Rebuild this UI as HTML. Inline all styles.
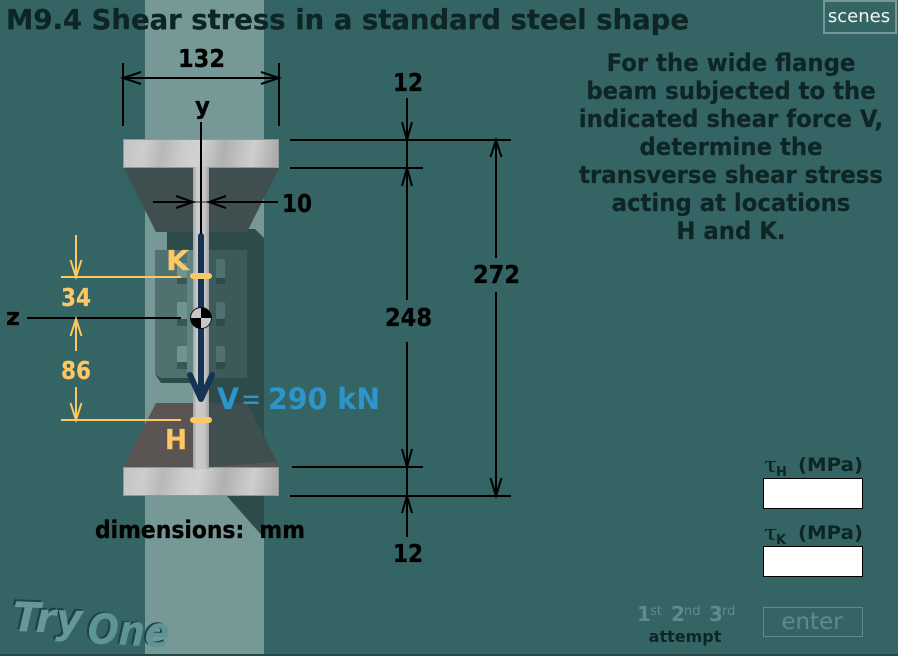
<!DOCTYPE html>
<html><head><meta charset="utf-8"><style>
html,body{margin:0;padding:0;background:#346464;width:898px;height:656px;overflow:hidden}
svg{display:block}
text{font-family:"DejaVu Sans","Liberation Sans",sans-serif;font-weight:bold}
</style></head><body>
<svg width="898" height="656" viewBox="0 0 898 656" xmlns="http://www.w3.org/2000/svg">
<defs>
<linearGradient id="fl" x1="0" y1="0" x2="1" y2="0.03">
<stop offset="0" stop-color="#c4c4c4"/><stop offset=".14" stop-color="#cdcdcd"/><stop offset=".26" stop-color="#b8b8b8"/><stop offset=".4" stop-color="#cccccc"/><stop offset=".5" stop-color="#d2d2d2"/><stop offset=".66" stop-color="#b0b0b0"/><stop offset=".85" stop-color="#cecece"/><stop offset="1" stop-color="#acacac"/>
</linearGradient>
<linearGradient id="web" x1="0" y1="0" x2="1" y2="0">
<stop offset="0" stop-color="#a4a4a4"/><stop offset=".25" stop-color="#cccccc"/><stop offset=".75" stop-color="#c4c4c4"/><stop offset="1" stop-color="#a0a0a0"/>
</linearGradient>
</defs>
<rect width="898" height="656" fill="#346464"/>
<rect x="145" y="0" width="119" height="656" fill="#769896"/>
<rect x="0" y="654" width="898" height="2" fill="#244848"/>

<!-- background column shapes -->
<polygon points="167,229 255,229 264,238 264,437 209,437 209,250 167,250" fill="#2d4b4b"/>
<polygon points="226,495 264,495 264,538" fill="#2d4b4b"/>
<polygon points="155,250 247,250 247,378 161,378 155,374" fill="#4f716f"/>
<rect x="187" y="250" width="6" height="128" fill="#5f8481"/>
<polygon points="209,250 247,250 247,378 209,378" fill="#3b5a59"/>
<polygon points="155,374 161,383 193,383 193,378 161,378" fill="#2d4b4b"/>
<polygon points="209,378 247,378 247,382 209,382" fill="#2d4b4b"/>
<g>
<rect x="177" y="263" width="10" height="16" rx="2" fill="#6f9491"/><rect x="177" y="278" width="10" height="6" fill="#375755"/>
<rect x="177" y="302" width="10" height="17" rx="2" fill="#6f9491"/><rect x="177" y="319" width="10" height="7" fill="#375755"/>
<rect x="177" y="346" width="10" height="17" rx="2" fill="#6f9491"/><rect x="177" y="362" width="10" height="7" fill="#375755"/>
<rect x="216" y="259" width="9" height="20" rx="2" fill="#4f716f"/><rect x="216" y="278" width="9" height="6" fill="#2d4b4b"/>
<rect x="216" y="302" width="9" height="17" rx="2" fill="#4f716f"/><rect x="216" y="319" width="9" height="7" fill="#2d4b4b"/>
<rect x="216" y="346" width="9" height="17" rx="2" fill="#4f716f"/><rect x="216" y="362" width="9" height="7" fill="#2d4b4b"/>
</g>

<!-- beam -->
<polygon points="124,168 279,168 247,232 156,232" fill="#3f4f4f"/>
<polygon points="156,403 193,403 193,467 123,467" fill="#5a5452"/>
<polygon points="209,403 247,403 277,462 279,467 209,467" fill="#3f4f4f"/>
<polygon points="209,467 276,462 279,467" fill="#5a5452"/>
<rect x="123.500" y="139.500" width="155" height="28" fill="url(#fl)" stroke="#8a9a9a"/>
<rect x="123.500" y="467.500" width="155" height="28" fill="url(#fl)" stroke="#8a9a9a"/>
<rect x="193" y="167" width="16" height="302" fill="url(#web)"/>
<rect x="193" y="201" width="16" height="2" fill="#777"/>

<!-- dark shear arrow -->
<line x1="201" y1="236" x2="201" y2="394" stroke="#153352" stroke-width="6" stroke-linecap="round"/>
<polyline points="190,375 201,399 212,375" fill="none" stroke="#153352" stroke-width="6" stroke-linecap="round" stroke-linejoin="round"/>

<g stroke="#000" fill="none" stroke-width="2">
<!-- 132 -->
<line x1="123" y1="63" x2="123" y2="126"/><line x1="279" y1="63" x2="279" y2="126"/>
<line x1="123" y1="78" x2="279" y2="78"/>
<polyline points="141,72 123,78 141,84"/><polyline points="261,72 279,78 261,84"/>
<!-- y -->
<line x1="201" y1="122" x2="201" y2="234"/>
<!-- 10 -->
<line x1="153" y1="202" x2="193" y2="202"/><line x1="209" y1="202" x2="278" y2="202"/>
<polyline points="176,196 193,202 176,208"/><polyline points="226,196 209,202 226,208"/>
<!-- z -->
<line x1="27" y1="318" x2="181" y2="318"/>
<!-- right dims -->
<line x1="290" y1="140" x2="511" y2="140"/>
<line x1="290" y1="168" x2="423" y2="168"/>
<line x1="292" y1="467" x2="423" y2="467"/>
<line x1="290" y1="496" x2="511" y2="496"/>
<line x1="407" y1="98" x2="407" y2="300"/>
<line x1="407" y1="342" x2="407" y2="537"/>
<polyline points="402,122 407,140 412,122"/><polyline points="402,186 407,168 412,186"/>
<polyline points="402,449 407,467 412,449"/><polyline points="402,513 407,496 412,513"/>
<line x1="496" y1="140" x2="496" y2="258"/><line x1="496" y1="292" x2="496" y2="496"/>
<polyline points="490.500,157 496,140 501.500,157"/><polyline points="490.500,478 496,496 501.500,478"/>
</g>

<!-- orange dims -->
<g stroke="#fdc763" fill="none" stroke-width="2">
<line x1="61" y1="277" x2="181" y2="277"/><line x1="61" y1="420" x2="181" y2="420"/>
<line x1="76" y1="235" x2="76" y2="277"/><polyline points="70.500,260 76,277 81.500,260"/>
<line x1="76" y1="319" x2="76" y2="351"/><polyline points="70.500,336 76,319 81.500,336"/>
<line x1="76" y1="387" x2="76" y2="420"/><polyline points="70.500,403 76,420 81.500,403"/>
</g>
<rect x="190" y="273" width="22" height="6" rx="3" fill="#fdc763"/>
<rect x="190" y="417" width="22" height="6" rx="3" fill="#fdc763"/>

<!-- centroid -->
<circle cx="201" cy="318" r="10.500" fill="#c8c8c8" stroke="#111" stroke-width="1"/>
<path d="M201,318V307.500A10.500,10.500 0 0 1 211.500,318ZM201,318V328.500A10.500,10.500 0 0 1 190.500,318Z" fill="#000"/>

<!-- labels -->
<text x="6" y="29" font-size="28" textLength="683" lengthAdjust="spacingAndGlyphs" fill="#0e2525" stroke="#0e2525" stroke-width=".3">M9.4 Shear stress in a standard steel shape</text>
<g fill="#000" font-size="25" stroke="#000" stroke-width=".3">
<text x="178" y="67" textLength="47" lengthAdjust="spacingAndGlyphs">132</text>
<text x="195" y="114" font-size="24" textLength="15" lengthAdjust="spacingAndGlyphs">y</text>
<text x="393" y="91" textLength="30" lengthAdjust="spacingAndGlyphs">12</text>
<text x="393" y="562" textLength="30" lengthAdjust="spacingAndGlyphs">12</text>
<text x="385" y="326" textLength="47" lengthAdjust="spacingAndGlyphs">248</text>
<text x="473" y="283" textLength="47" lengthAdjust="spacingAndGlyphs">272</text>
<text x="282" y="212" textLength="30" lengthAdjust="spacingAndGlyphs">10</text>
<text x="6" y="325" font-size="24" textLength="14" lengthAdjust="spacingAndGlyphs">z</text>
<text x="95" y="538" font-size="24" textLength="210" lengthAdjust="spacingAndGlyphs">dimensions:&#160; mm</text>
</g>
<g fill="#fdc763" font-size="25" stroke="#fdc763" stroke-width=".2">
<text x="61" y="306" textLength="30" lengthAdjust="spacingAndGlyphs">34</text>
<text x="61" y="379" textLength="30" lengthAdjust="spacingAndGlyphs">86</text>
<text x="166" y="270" font-size="28" textLength="23" lengthAdjust="spacingAndGlyphs">K</text>
<text x="165" y="449" font-size="28" textLength="22" lengthAdjust="spacingAndGlyphs">H</text>
</g>
<g fill="#2e94cc" font-size="29">
<text x="217" y="409" textLength="22" lengthAdjust="spacingAndGlyphs">V</text>
<text x="241" y="409" textLength="20" lengthAdjust="spacingAndGlyphs" style="font-weight:normal">=</text>
<text x="268" y="409" textLength="112" lengthAdjust="spacingAndGlyphs">290 kN</text>
</g>

<g fill="#0e2525" font-size="24" text-anchor="middle" stroke="#0e2525" stroke-width=".2">
<text transform="translate(731,71) scale(.95,1)">For the wide flange</text>
<text transform="translate(731,99) scale(.95,1)">beam subjected to the</text>
<text transform="translate(731,127) scale(.95,1)">indicated shear force V,</text>
<text transform="translate(731,155) scale(.95,1)">determine the</text>
<text transform="translate(731,183) scale(.95,1)">transverse shear stress</text>
<text transform="translate(731,211) scale(.95,1)">acting at locations</text>
<text transform="translate(731,239) scale(.95,1)">H and K.</text>
</g>

<!-- scenes -->
<rect x="824" y="1" width="72" height="32" fill="none" stroke="#769896" stroke-width="2"/>
<text x="859" y="22" font-size="18" text-anchor="middle" fill="#f2f6f6" style="font-weight:normal">scenes</text>

<!-- answers -->
<g fill="#0e2525">
<text x="764" y="472" font-size="24" textLength="13" lengthAdjust="spacingAndGlyphs" style="font-family:'Liberation Serif',serif;font-weight:normal">τ</text>
<text x="776" y="476" font-size="13">H</text>
<text x="798" y="471" font-size="19" textLength="65" lengthAdjust="spacingAndGlyphs">(MPa)</text>
<text x="764" y="540" font-size="24" textLength="13" lengthAdjust="spacingAndGlyphs" style="font-family:'Liberation Serif',serif;font-weight:normal">τ</text>
<text x="776" y="544" font-size="13">K</text>
<text x="798" y="539" font-size="19" textLength="65" lengthAdjust="spacingAndGlyphs">(MPa)</text>
</g>
<rect x="763.500" y="478.500" width="99" height="30" fill="#fff" stroke="#000"/>
<rect x="763.500" y="546.500" width="99" height="30" fill="#fff" stroke="#000"/>

<g fill="#5f8c8a">
<text x="637" y="621" font-size="20">1</text><text x="650" y="615" font-size="13" style="font-weight:normal">st</text>
<text x="671" y="621" font-size="20">2</text><text x="684" y="615" font-size="13" style="font-weight:normal">nd</text>
<text x="709" y="621" font-size="20">3</text><text x="722" y="615" font-size="13" style="font-weight:normal">rd</text>
</g>
<text x="685" y="642" font-size="16" text-anchor="middle" fill="#0e2525">attempt</text>
<rect x="763.500" y="607.500" width="99" height="29" fill="none" stroke="#5f8c8a"/>
<text x="812" y="629" font-size="23" text-anchor="middle" fill="#5f8c8a" style="font-weight:normal">enter</text>

<!-- Try One -->
<g font-style="italic">
<text x="10" y="629" font-size="41" fill="#1f4242" textLength="70" lengthAdjust="spacingAndGlyphs" transform="rotate(2 10 629)">Try</text>
<text x="85" y="642" font-size="42" fill="#1f4242" textLength="82" lengthAdjust="spacingAndGlyphs" transform="rotate(3 85 642)">One</text>
<text x="12" y="631" font-size="41" fill="#66989a" textLength="70" lengthAdjust="spacingAndGlyphs" transform="rotate(2 12 631)">Try</text>
<text x="87" y="643" font-size="42" fill="#5d9496" textLength="82" lengthAdjust="spacingAndGlyphs" transform="rotate(3 87 643)">One</text>
</g>
</svg>
</body></html>
